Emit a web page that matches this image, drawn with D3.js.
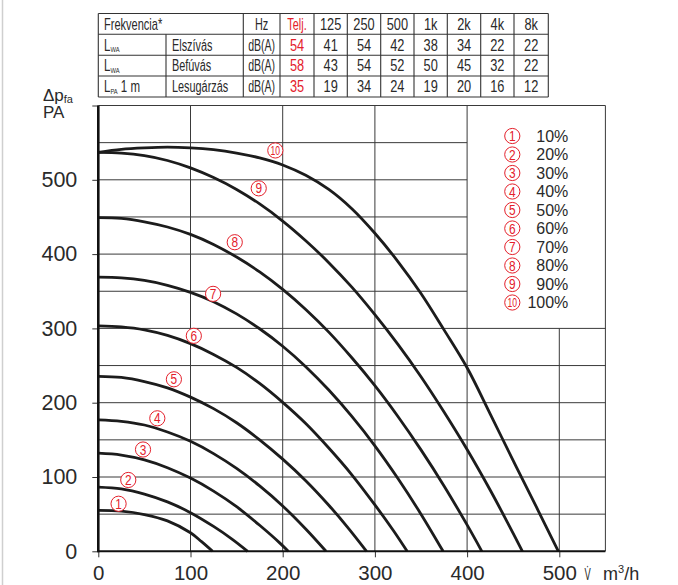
<!DOCTYPE html>
<html><head><meta charset="utf-8">
<script src="https://cdn.jsdelivr.net/npm/d3@7"></script>
<style>html,body{margin:0;padding:0;background:#fff;} svg{display:block;}</style>
</head><body><svg id="c" width="678" height="585"></svg>
<script>
// ---------- DATA ----------
const tableHeader = ["Hz", "Telj.", "125", "250", "500", "1k", "2k", "4k", "8k"];
const tableTitle = "Frekvencia*";
const rowSymbols = [["L", "WA", ""], ["L", "WA", ""], ["L", "PA", " 1 m"]];
const rowNames = ["Elszívás", "Befúvás", "Lesugárzás"];
const rowUnits = ["dB(A)", "dB(A)", "dB(A)"];
const totals = [54, 58, 35];
const bandElszivas = [41, 54, 42, 38, 34, 22, 22];
const bandBefuvas = [43, 54, 52, 50, 45, 32, 22];
const bandLesugarzas = [19, 34, 24, 19, 20, 16, 12];

const xTicks = [0, 100, 200, 300, 400, 500];
const yTicks = [0, 100, 200, 300, 400, 500, 600];
const xGrid = [100, 200, 300, 400, 500];
const yGrid = [50, 100, 150, 200, 250, 300, 350, 400, 450, 500, 550];

const legendLabels = ["10%", "20%", "30%", "40%", "50%", "60%", "70%", "80%", "90%", "100%"];
const curveNumbers = ["1", "2", "3", "4", "5", "6", "7", "8", "9", "10"];

// fan curves: [flow m3/h, pressure Pa]
const c10pct = [[0,55],[25,54],[50,49.5],[75,41],[100,25],[112,13],[124,0]];
const c20pct = [[0,86.5],[25,84],[50,77],[75,66.5],[100,52],[125,33.5],[145,16.5],[162,0]];
const c30pct = [[0,132],[25,129.5],[50,123],[75,112.5],[100,98.5],[125,81],[150,60],[175,35],[197,11],[206,0]];
const c40pct = [[0,177],[25,175],[50,170],[75,160.5],[100,148],[125,131.5],[150,111.5],[175,88],[200,61],[225,30],[247,0]];
const c50pct = [[0,235.5],[25,234],[50,228.5],[75,220],[100,207.5],[125,192],[150,173],[175,150],[200,124],[225,95],[250,62],[270,33],[291,0]];
const c60pct = [[0,303.5],[25,302],[50,298],[75,290.5],[100,279.5],[125,265],[150,247.5],[175,226],[200,200.5],[225,172],[250,139],[275,103],[300,62.5],[320,28],[335,0]];
const c70pct = [[0,369],[25,368],[50,364.5],[75,358],[100,348.5],[125,336],[150,319.5],[175,299.5],[200,276],[225,248.5],[250,217],[275,181.5],[300,142],[325,98],[350,50],[374,0]];
const c80pct = [[0,449],[25,448],[50,443.5],[75,436.5],[100,426.5],[125,413],[150,396],[175,376],[200,352.5],[225,325.5],[250,295],[275,260.5],[300,223],[325,181.5],[350,136.5],[375,88],[400,35.5],[416,0]];
const c90pct = [[0,537],[25,536],[50,532.5],[75,526],[100,516],[125,503],[150,487],[175,467.5],[200,444.5],[225,418],[250,388.5],[275,355.5],[300,318.5],[325,278.5],[350,235],[375,187.5],[400,137],[425,82.5],[445,36],[460,0]];
const c100pct = [[0,537],[25,541],[50,543],[75,544],[100,543],[125,540.5],[150,536],[175,529.5],[200,520],[225,506],[250,487],[275,461],[300,428],[325,390],[350,347],[375,298],[400,247],[425,185],[450,122],[475,60],[499,0]];
const curveSeries = [c10pct, c20pct, c30pct, c40pct, c50pct, c60pct, c70pct, c80pct, c90pct, c100pct];
// label anchor for each curve number [flow, pressure]
const curveLabelAt = [[22,64],[32.5,96],[48.5,137],[64,179],[82,231.5],[103.6,290],[124.5,346.5],[148,416],[174,488.5],[192,539.5]];

// ---------- DRAW ----------
const svg = d3.select("#c");
const FONT = "'Liberation Sans', Arial, Helvetica, sans-serif";
const RED = "#e4202b";
const INK = "#2a2a2a";

svg.append("rect").attr("width", 678).attr("height", 585).attr("fill", "#fff");
svg.append("line").attr("x1", 2.5).attr("x2", 2.5).attr("y1", 0).attr("y2", 585)
  .attr("stroke", "#cfcfcf").attr("stroke-width", 1.5);

// ----- table -----
const colX = [98.3, 166, 243.3, 280, 314, 347.3, 380.7, 414, 447.3, 480.7, 514, 548.3];
const rowY = [13.5, 34.3, 55.2, 76, 97];
const tbl = svg.append("g").attr("font-family", FONT).attr("font-size", 16);
rowY.forEach(yy => tbl.append("line").attr("x1", colX[0]).attr("x2", colX[11]).attr("y1", yy).attr("y2", yy)
  .attr("stroke", "#333").attr("stroke-width", 1.1));
colX.forEach((xx, i) => tbl.append("line").attr("x1", xx).attr("x2", xx)
  .attr("y1", i === 1 ? rowY[1] : rowY[0]).attr("y2", rowY[4])
  .attr("stroke", "#333").attr("stroke-width", 1.1));

function cell(x, y, str, anchor, color, sx) {
  return tbl.append("text").attr("transform", `translate(${x},${y}) scale(${sx},1)`)
    .attr("text-anchor", anchor).attr("fill", color).text(str);
}
const mid = i => (colX[i] + colX[i + 1]) / 2;
const base = r => (rowY[r] + rowY[r + 1]) / 2 + 5.8;

cell(104, base(0), tableTitle, "start", INK, 0.69);
tableHeader.forEach((h, j) => {
  const isNum = j >= 2;
  cell(mid(j + 2), base(0), h, "middle", j === 1 ? RED : INK, isNum ? 0.8 : 0.68);
});
const bandRows = [bandElszivas, bandBefuvas, bandLesugarzas];
rowSymbols.forEach((s, r) => {
  const t = tbl.append("text").attr("transform", `translate(104,${base(r + 1)}) scale(0.72,1)`)
    .attr("fill", INK);
  t.append("tspan").text(s[0]);
  t.append("tspan").attr("font-size", 8).attr("dy", 1.5).text(s[1]);
  if (s[2]) t.append("tspan").attr("dy", -1.5).text(s[2]);
  cell(172, base(r + 1), rowNames[r], "start", INK, 0.68);
  cell(mid(2), base(r + 1), rowUnits[r], "middle", INK, 0.66);
  cell(mid(3), base(r + 1), totals[r], "middle", RED, 0.8);
  bandRows[r].forEach((v, j) => cell(mid(j + 4), base(r + 1), v, "middle", INK, 0.8));
});

// ----- chart -----
const x = d3.scaleLinear().domain([0, 550]).range([98.3, 605.4]);
const y = d3.scaleLinear().domain([0, 600]).range([551.3, 105.5]);

const grid = svg.append("g").attr("stroke", "#3a3a3a").attr("stroke-width", 1);
yGrid.forEach(p => grid.append("line").attr("x1", x(0)).attr("x2", p > 300 ? x(400) : x(550))
  .attr("y1", y(p)).attr("y2", y(p)));
xGrid.forEach(v => grid.append("line").attr("x1", x(v)).attr("x2", x(v))
  .attr("y1", y(0)).attr("y2", v > 400 ? y(300) : y(600)));
// frame top & right
grid.append("line").attr("x1", x(0)).attr("x2", x(550)).attr("y1", y(600)).attr("y2", y(600));
grid.append("line").attr("x1", x(550)).attr("x2", x(550)).attr("y1", y(0)).attr("y2", y(600));

// curves
const line = d3.line().x(d => x(d[0])).y(d => y(d[1])).curve(d3.curveCatmullRom.alpha(0.5));
svg.append("g").selectAll("path").data(curveSeries).join("path")
  .attr("d", line).attr("fill", "none").attr("stroke", "#1c1c1c").attr("stroke-width", 2.8);

// axes
const ax = svg.append("g").attr("transform", `translate(0,${y(0)})`)
  .call(d3.axisBottom(x).tickValues(xTicks).tickSize(6).tickPadding(8));
const ay = svg.append("g").attr("transform", `translate(${x(0)},0)`)
  .call(d3.axisLeft(y).tickValues(yTicks).tickSize(6).tickPadding(15)
    .tickFormat(d => d === 600 ? "" : d));
[ax, ay].forEach(g => {
  g.select(".domain").remove();
  g.selectAll(".tick line").attr("stroke", "#333").attr("stroke-width", 1);
  g.selectAll(".tick text").attr("font-family", FONT).attr("font-size", 21.5).attr("fill", INK);
});
ax.selectAll(".tick text").attr("font-size", 20.5);
svg.append("line").attr("x1", x(0)).attr("x2", x(550)).attr("y1", y(0)).attr("y2", y(0))
  .attr("stroke", "#111").attr("stroke-width", 2);
svg.append("line").attr("x1", x(0)).attr("x2", x(0)).attr("y1", y(0) + 1).attr("y2", y(600))
  .attr("stroke", "#111").attr("stroke-width", 2.6);

// axis titles
const yt = svg.append("text").attr("x", 43).attr("y", 100.7).attr("font-family", FONT)
  .attr("font-size", 17).attr("fill", INK);
yt.append("tspan").text("Δp");
yt.append("tspan").attr("font-size", 11).attr("dy", 2).text("fa");
svg.append("text").attr("x", 43).attr("y", 118.3).attr("font-family", FONT)
  .attr("font-size", 17).attr("fill", INK).text("PA");
svg.append("text").attr("transform", "translate(584.5,579.5) scale(0.55,1)")
  .attr("font-family", FONT).attr("font-size", 17).attr("fill", INK).text("V\u0307");
const ut = svg.append("text").attr("x", 603).attr("y", 579.5).attr("font-family", FONT)
  .attr("font-size", 18).attr("fill", INK);
ut.append("tspan").text("m");
ut.append("tspan").attr("font-size", 11).attr("dy", -7).text("3");
ut.append("tspan").attr("dy", 7).text("/h");

// circled numbers
function circled(g, cx, cy, label) {
  const two = label.length > 1;
  g.append("circle").attr("cx", cx).attr("cy", cy).attr("r", 7.6)
    .attr("fill", "#fff").attr("stroke", RED).attr("stroke-width", 1);
  g.append("text").attr("transform", `translate(${cx},${cy + (two ? 4.6 : 5)}) scale(${two ? 0.66 : 0.85},1)`)
    .attr("text-anchor", "middle").attr("font-family", FONT).attr("font-size", two ? 13 : 14)
    .attr("fill", RED).text(label);
}
const lab = svg.append("g");
curveLabelAt.forEach((d, i) => circled(lab, x(d[0]), y(d[1]), curveNumbers[i]));

// legend
const lg = svg.append("g");
legendLabels.forEach((t, i) => {
  const cy = 136 + i * 18.5;
  circled(lg, 512.3, cy, curveNumbers[i]);
  lg.append("text").attr("x", 568.3).attr("y", cy + 5.8).attr("text-anchor", "end")
    .attr("font-family", FONT).attr("font-size", 16).attr("fill", INK).text(t);
});
</script>
</body></html>
